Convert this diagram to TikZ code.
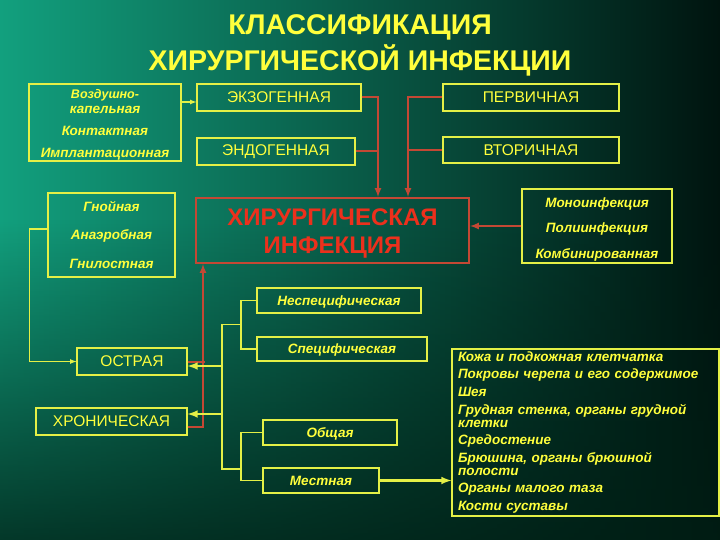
\documentclass[tikz,border=0pt]{standalone}
\usepackage{fontspec}
\setmainfont{Liberation Sans}
\usetikzlibrary{fadings}
\definecolor{bgl}{RGB}{18,160,126}
\definecolor{bgm}{RGB}{0,114,88}
\definecolor{bgr}{RGB}{0,20,15}
\definecolor{bgdk}{RGB}{0,30,20}
\definecolor{boxyellow}{RGB}{228,240,70}
\definecolor{txtyellow}{RGB}{255,255,60}
\definecolor{linered}{RGB}{196,72,52}
\definecolor{txtred}{RGB}{236,48,28}
\tikzset{
  ybox/.style={draw=boxyellow,line width=1.2pt,text=txtyellow,inner sep=0pt,align=center},
  caps/.style={font=\fontsize{15.5}{18}\selectfont},
  ital/.style={font=\fontsize{13.5}{15}\selectfont\bfseries\itshape},
  yline/.style={draw=boxyellow,line width=1.2pt},
  yarrow/.style={draw=boxyellow,line width=2.4pt,->},
  rline/.style={draw=linered,line width=2pt}
}
\begin{document}
\begin{tikzpicture}[x=1pt,y=-1pt,>=latex]
                    % Background
                    \shade [left color=bgl, middle color=bgm, right color=bgr] (0,0) rectangle (720,540);%
                    \fill [bgdk, fill opacity=0.8, path fading=north] (0,220) rectangle (720,540);%
                    \useasboundingbox (0,0) rectangle (720,540);%

                    % Title
                    \node (title) [text=txtyellow, font=\fontsize{28.5}{36}\selectfont\bfseries, align=center] at (360,45.5) {КЛАССИФИКАЦИЯ\\ХИРУРГИЧЕСКОЙ ИНФЕКЦИИ};%

                    % Drawing box air
                    \node (air) [ybox, ital, minimum width=152pt, minimum height=77pt] at (105,122.5) {\rule{0pt}{13pt}\fontsize{12.5}{14}\selectfont Воздушно-\\капельная\\[7pt]\fontsize{13.5}{15}\selectfont Контактная\\[7pt]Имплантационная};%

                    % Drawing boxes exo, endo, prim, sec
                    \node (exo) [ybox, caps, minimum width=164pt, minimum height=27pt] at (279,97.5) {ЭКЗОГЕННАЯ};%
                    \node (endo) [ybox, caps, minimum width=158pt, minimum height=27pt] at (276,151.5) {ЭНДОГЕННАЯ};%
                    \node (prim) [ybox, caps, minimum width=176pt, minimum height=27pt] at (531,97.5) {ПЕРВИЧНАЯ};%
                    \node (sec) [ybox, caps, minimum width=176pt, minimum height=26pt] at (531,150) {ВТОРИЧНАЯ};%

                    % Drawing box surg
                    \node (surg) [draw=linered, line width=2pt, text=txtred, inner sep=0pt, align=center, font=\fontsize{24}{28}\selectfont\bfseries, minimum width=273pt, minimum height=65pt] at (332.5,230.5) {\rule{0pt}{22pt}ХИРУРГИЧЕСКАЯ\\ИНФЕКЦИЯ};%

                    % Drawing box mono
                    \node (mono) [ybox, ital, minimum width=150pt, minimum height=74pt] at (597,226) {\rule{0pt}{16pt}Моноинфекция\\[10.5pt]Полиинфекция\\[10.5pt]Комбинированная};%

                    % Drawing box pus
                    \node (pus) [ybox, ital, minimum width=127pt, minimum height=84pt] at (111.5,235) {Гнойная\\[13.5pt]Анаэробная\\[13.5pt]Гнилостная};%

                    % Drawing boxes acute, chron
                    \node (acute) [ybox, caps, minimum width=110pt, minimum height=27pt] at (132,361.5) {ОСТРАЯ};%
                    \node (chron) [ybox, caps, minimum width=151pt, minimum height=27pt] at (111.5,421.5) {ХРОНИЧЕСКАЯ};%

                    % Drawing boxes nonspec, spec, gen, loc
                    \node (nonspec) [ybox, ital, minimum width=164pt, minimum height=25pt] at (339,300.5) {\rule{0pt}{12pt}Неспецифическая};%
                    \node (spec) [ybox, ital, minimum width=170pt, minimum height=24pt] at (342,349) {\rule{0pt}{12pt}Специфическая};%
                    \node (gen) [ybox, ital, minimum width=134pt, minimum height=25pt] at (330,432.5) {\rule{0pt}{12pt}Общая};%
                    \node (loc) [ybox, ital, minimum width=116pt, minimum height=25pt] at (321,480.5) {Местная};%

                    % Drawing box organs
                    \node (organs) [ybox, ital, align=left, text width=255pt, inner xsep=6pt, minimum height=167pt] at (585.5,432.5) {Кожа и подкожная клетчатка\\[2.8pt]Покровы черепа и его содержимое\\[2.8pt]Шея\\[2.8pt]Грудная стенка, органы грудной\\[-2.5pt]клетки\\[2.8pt]Средостение\\[2.8pt]Брюшина, органы брюшной\\[-2.5pt]полости\\[2.8pt]Органы малого таза\\[2.8pt]Кости суставы};%

                    % Junction points
                    \coordinate (sp1) at (241,324.5);%
                    \coordinate (lp1) at (241,469);%
                    \coordinate (tk1) at (222,324.5);%
                    \coordinate (tk2) at (222,469);%
                    \coordinate (acin) at ([yshift=-4.5pt]acute.east);%
                    \coordinate (chin) at ([yshift=7.5pt]chron.east);%
                    \coordinate (airout) at ([yshift=-4.5pt]exo.west);%

                    % Drawing red connectors
                    \draw [rline,->] (exo.east) -| ([xshift=45.5pt]surg.north);%
                    \draw [rline] (endo.east) -- ++(23,0);%
                    \draw [rline,->] (prim.west) -| ([xshift=75.5pt]surg.north);%
                    \draw [rline] (sec.west) -- ++(-35,0);%
                    \draw [rline,->] (mono.west) -- (mono.west -| surg.east);%
                    \draw [rline,->] ([yshift=-5.5pt]chron.east) -| ([xshift=8pt]surg.south west);%
                    \draw [rline] (acute.east) -- ++(17,0);%

                    % Drawing yellow connectors
                    \draw [yline,->] (air.east |- airout) -- (airout);%
                    \draw [yline,->] ([yshift=6pt]pus.west) -- ++(-18,0) |- (acute.west);%
                    \draw [yline] (nonspec.west) -| (sp1) |- (spec.west);%
                    \draw [yline] (gen.west) -| (lp1) |- (loc.west);%
                    \draw [yline] (sp1) -- (tk1) -- (tk2) -- (lp1);%
                    \draw [yarrow] (acin -| tk1) -- (acin);%
                    \draw [yarrow] (chin -| tk1) -- (chin);%
                    \draw [yarrow] (loc.east) -- (loc.east -| organs.west);%
\end{tikzpicture}
\end{document}
